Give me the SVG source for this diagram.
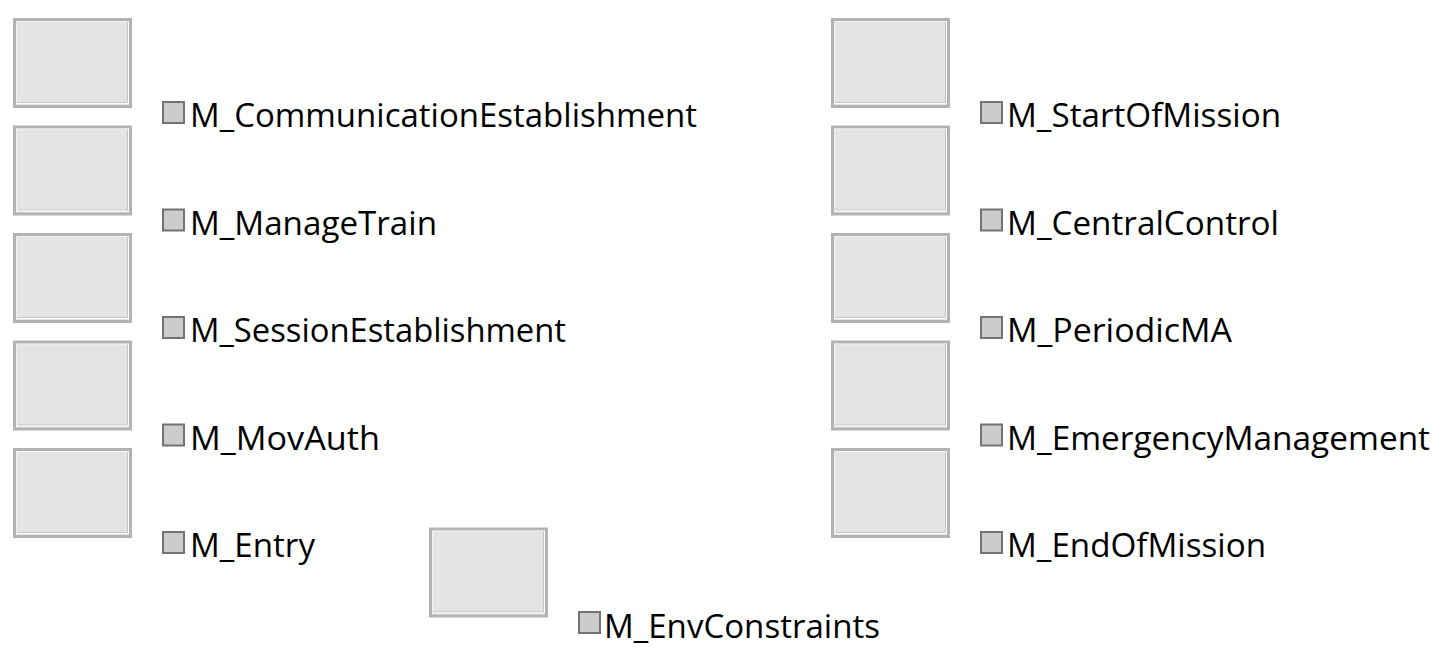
<svg xmlns="http://www.w3.org/2000/svg" xmlns:xlink="http://www.w3.org/1999/xlink" width="1437" height="653" viewBox="0 0 1437 653">
<style>
.lbl{font-family:"Open Sans","Noto Sans","Liberation Sans",sans-serif;font-size:32px;fill:#000}
.sq{fill:#cccccc;stroke:#737373;stroke-width:2}
</style>
<defs>
<g id="box">
<rect x="1.5" y="1.5" width="116" height="87" fill="#e3e4e6" stroke="#b3b3b3" stroke-width="3"/>
<path d="M3.5,85.5 V3.5 H115.5" fill="none" stroke="#f2f2f2" stroke-width="1"/>
<path d="M114.5,4 V84.5 H4" fill="none" stroke="#c4c4c4" stroke-width="1"/>
<path d="M115.5,3 V85.5 H3" fill="none" stroke="#ffffff" stroke-width="1"/>
</g>
</defs>
<rect width="1437" height="653" fill="#ffffff"/>
<g id="connectors"></g>
<g id="M_CommunicationEstablishment">
<use xlink:href="#box" x="13" y="18"/>
<rect class="sq" x="163" y="102" width="21" height="21"/>
<text class="lbl" x="190" y="127" textLength="507" lengthAdjust="spacingAndGlyphs">M_CommunicationEstablishment</text>
</g>
<g id="M_ManageTrain">
<use xlink:href="#box" x="13" y="125.5"/>
<rect class="sq" x="163" y="209.5" width="21" height="21"/>
<text class="lbl" x="190" y="234.5" textLength="247" lengthAdjust="spacingAndGlyphs">M_ManageTrain</text>
</g>
<g id="M_SessionEstablishment">
<use xlink:href="#box" x="13" y="233"/>
<rect class="sq" x="163" y="317" width="21" height="21"/>
<text class="lbl" x="190" y="342" textLength="376" lengthAdjust="spacingAndGlyphs">M_SessionEstablishment</text>
</g>
<g id="M_MovAuth">
<use xlink:href="#box" x="13" y="340.5"/>
<rect class="sq" x="163" y="424.5" width="21" height="21"/>
<text class="lbl" x="190" y="449.5" textLength="190" lengthAdjust="spacingAndGlyphs">M_MovAuth</text>
</g>
<g id="M_Entry">
<use xlink:href="#box" x="13" y="448"/>
<rect class="sq" x="163" y="532" width="21" height="21"/>
<text class="lbl" x="190" y="557" textLength="125" lengthAdjust="spacingAndGlyphs">M_Entry</text>
</g>
<g id="M_StartOfMission">
<use xlink:href="#box" x="831" y="18"/>
<rect class="sq" x="981" y="102" width="21" height="21"/>
<text class="lbl" x="1007" y="127" textLength="274" lengthAdjust="spacingAndGlyphs">M_StartOfMission</text>
</g>
<g id="M_CentralControl">
<use xlink:href="#box" x="831" y="125.5"/>
<rect class="sq" x="981" y="209.5" width="21" height="21"/>
<text class="lbl" x="1007" y="234.5" textLength="272" lengthAdjust="spacingAndGlyphs">M_CentralControl</text>
</g>
<g id="M_PeriodicMA">
<use xlink:href="#box" x="831" y="233"/>
<rect class="sq" x="981" y="317" width="21" height="21"/>
<text class="lbl" x="1007" y="342" textLength="225" lengthAdjust="spacingAndGlyphs">M_PeriodicMA</text>
</g>
<g id="M_EmergencyManagement">
<use xlink:href="#box" x="831" y="340.5"/>
<rect class="sq" x="981" y="424.5" width="21" height="21"/>
<text class="lbl" x="1007" y="449.5" textLength="423" lengthAdjust="spacingAndGlyphs">M_EmergencyManagement</text>
</g>
<g id="M_EndOfMission">
<use xlink:href="#box" x="831" y="448"/>
<rect class="sq" x="981" y="532" width="21" height="21"/>
<text class="lbl" x="1007" y="557" textLength="259" lengthAdjust="spacingAndGlyphs">M_EndOfMission</text>
</g>
<g id="M_EnvConstraints">
<use xlink:href="#box" x="429" y="527.5"/>
<rect class="sq" x="579" y="612" width="21" height="21"/>
<text class="lbl" x="604" y="637.5" textLength="276" lengthAdjust="spacingAndGlyphs">M_EnvConstraints</text>
</g>
</svg>
